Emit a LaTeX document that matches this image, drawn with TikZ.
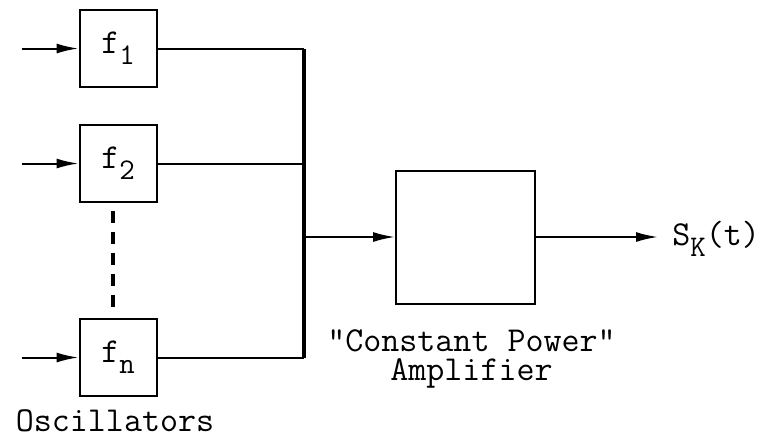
\documentclass[tikz,border=0pt]{standalone}
\usepackage{fontspec}
\usetikzlibrary{arrows.meta, positioning}
\newcommand{\lowsub}[1]{\raisebox{-5.5pt}{\fontsize{15}{15}\selectfont #1}}

\begin{document}
\begin{tikzpicture}[
    x=0.5pt, y=-0.5pt,
    font=\ttfamily\fontsize{17.5}{14.5}\selectfont,
    osc/.style={draw, line width=1pt, minimum size=38.5pt, inner sep=0pt},
    amp/.style={draw, line width=1pt, minimum width=69.5pt, minimum height=66.5pt, inner sep=0pt},
    wire/.style={line width=1pt},
    bus/.style={line width=1.6pt},
    sig/.style={line width=1pt, -{Latex[length=11pt, width=5pt]}},
    dots/.style={line width=1.6pt, dash pattern=on 6pt off 4.5pt},
    lbl/.style={inner sep=0pt, align=center}]
  \useasboundingbox (0,0) rectangle (761,435);
  % oscillators
  \node[osc] (f1) at (118,48.5) {f\lowsub{1}};
  \node[osc, below=18pt of f1] (f2) {f\lowsub{2}};
  \node[osc, below=57.5pt of f2] (fn) {f\lowsub{n}};
  \coordinate[left=28.5pt of f1] (in1);
  \coordinate[left=28.5pt of f2] (in2);
  \coordinate[left=28.5pt of fn] (inn);
  \node[lbl, anchor=base] (osclbl) at ([xshift=-1.5pt, yshift=-17pt]fn.south) {Oscillators};
  % summing bus and amplifier
  \coordinate (bus) at (304,237);
  \node[amp, right=45.5pt of bus] (amp) {};
  \coordinate[right=61pt of amp] (out);
  \node[lbl, anchor=base west] (sk) at ([xshift=7pt, yshift=-4pt]out) {S\lowsub{K}(t)};
  \node[lbl, anchor=north] (amplbl) at ([xshift=3pt, yshift=-12.5pt]amp.south) {"Constant Power"\\Amplifier};
  % connections
  \draw[sig] (in1) -- (f1);
  \draw[sig] (in2) -- (f2);
  \draw[sig] (inn) -- (fn);
  \draw[dots] ([xshift=-2.5pt, yshift=-4pt]f2.south) -- ([xshift=-2.5pt, yshift=1.5pt]fn.north);
  \draw[wire] (f1.east) -- (f1.east -| bus);
  \draw[wire] (f2.east) -- (f2.east -| bus);
  \draw[wire] (fn.east) -- (fn.east -| bus);
  \draw[bus] (f1.east -| bus) -- (fn.east -| bus);
  \draw[sig] (bus) -- (amp);
  \draw[sig] (amp) -- (out);
\end{tikzpicture}
\end{document}
